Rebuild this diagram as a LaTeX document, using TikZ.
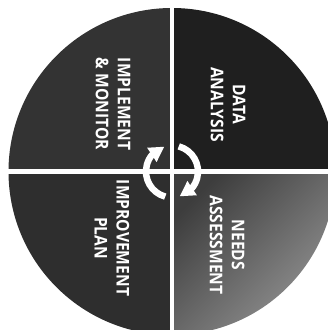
\documentclass[tikz,border=0pt]{standalone}
\usepackage{fontspec}
\setmainfont{Open Sans}[FakeStretch=0.89]
\usetikzlibrary{arrows.meta,bending}

\begin{document}
\begin{tikzpicture}[x=1pt,y=1pt,
    rotulo/.style={text=white,rotate=-90,align=center,
      font=\bfseries\fontsize{17.5}{22}\selectfont},
    seta/.style={draw=white,line width=6.5pt,
      -{Triangle[width=16pt,length=15pt]}}]
  \colorlet{qdados}{black!88}
  \colorlet{qimpl}{black!80}
  \colorlet{qplano}{black!82}
  \useasboundingbox (0,0) rectangle (328,330);
  \clip (0,0) rectangle (328,330);
  \coordinate (c) at (172,158.5);
  % quadrantes escuros do círculo
  \foreach \a/\cor in {0/qdados, 90/qimpl, 180/qplano} {
    \fill[\cor] (c) -- ++(\a:163.5) arc[start angle=\a, end angle=\a+90, radius=163.5] -- cycle;
  }
  % quadrante com degradê (necessidades)
  \shade[top color=black!76, bottom color=black!42, shading angle=45]
    (c) -- ++(270:163.5) arc[start angle=270, end angle=360, radius=163.5] -- cycle;
  % cruz branca entre os quadrantes
  \draw[white,line width=4.5pt] (0,158.5) -- (328,158.5);
  \draw[white,line width=4.5pt] (172,0) -- (172,330);
  % setas do ciclo, no centro
  \draw[seta] (c) ++(255:26) arc[start angle=255, end angle=107, radius=26];
  \draw[seta] (c) ++(75:26) arc[start angle=75, end angle=-73, radius=26];
  % rótulos
  \node[rotulo] (dados) at (228,225.5) {DATA\\ANALYSIS};
  \node[rotulo] (implementar) at (113,226) {IMPLEMENT\\\& MONITOR};
  \node[rotulo] (plano) at (112,92) {IMPROVEMENT\\PLAN};
  \node[rotulo] (necessidades) at (227,85) {NEEDS\\ASSESSMENT};
\end{tikzpicture}
\end{document}
